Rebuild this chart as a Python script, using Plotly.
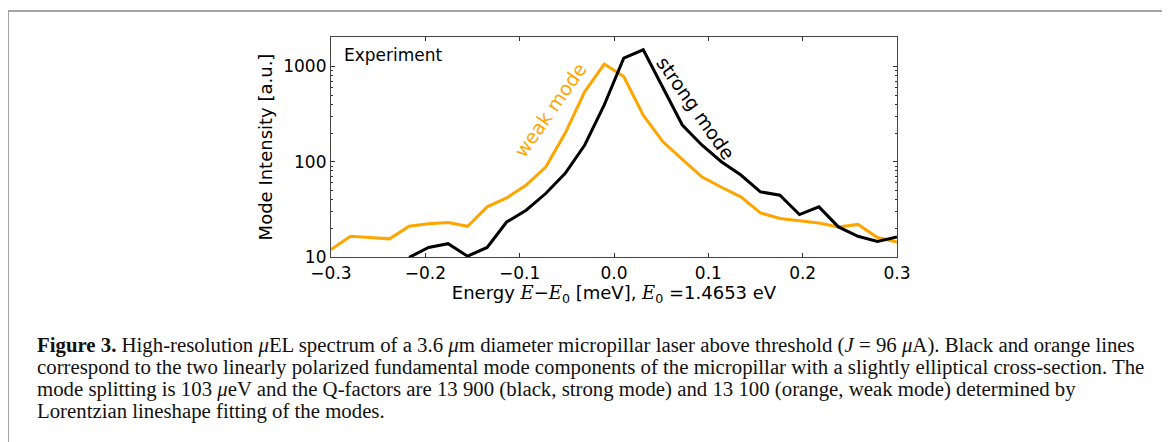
import plotly.graph_objects as go

# Energy detuning E - E0 [meV]
energy = [-0.3, -0.2793, -0.2586, -0.2379, -0.2172, -0.1966, -0.1759, -0.1552,
          -0.1345, -0.1138, -0.0931, -0.0724, -0.0517, -0.0310, -0.0103, 0.0103,
          0.0310, 0.0517, 0.0724, 0.0931, 0.1138, 0.1345, 0.1552, 0.1759,
          0.1966, 0.2172, 0.2379, 0.2586, 0.2793, 0.3]

# weak mode (orange)
weak_mode = [12, 16.5, 16, 15.5, 21, 22.4, 23, 21,
             33.6, 41.7, 57, 88, 200, 546, 1060, 785,
             309, 163, 106, 69.5, 54, 42.8, 29, 25.4,
             24, 22.8, 20.7, 22, 16, 14.4]

# strong mode (black); below 10 at the far left (outside the plotted range)
strong_mode = [None, None, None, None, 9.9, 12.6, 13.8, 10.2,
               12.6, 23.3, 31, 46.4, 75.5, 150, 395, 1225,
               1500, 593, 243, 150, 100, 72.5, 48.3, 44.6,
               27.9, 33.6, 20.7, 16.5, 14.6, 16.2]

x_ticks = [-0.3, -0.2, -0.1, 0.0, 0.1, 0.2, 0.3]
x_ticktext = ["\u22120.3", "\u22120.2", "\u22120.1", "0.0", "0.1", "0.2", "0.3"]
y_ticks = [10, 100, 1000]
y_ticktext = ["10", "100", "1000"]
y_minor = [20, 30, 40, 50, 60, 70, 80, 90, 200, 300, 400, 500, 600, 700, 800, 900, 2000]

caption_lines = [
    "<b>Figure 3.</b> High-resolution <i>μ</i>EL spectrum of a 3.6 <i>μ</i>m diameter micropillar laser above threshold (<i>J</i> = 96 <i>μ</i>A). Black and orange lines",
    "correspond to the two linearly polarized fundamental mode components of the micropillar with a slightly elliptical cross-section. The",
    "mode splitting is 103 <i>μ</i>eV and the Q-factors are 13 900 (black, strong mode) and 13 100 (orange, weak mode) determined by",
    "Lorentzian lineshape fitting of the modes.",
]

OFF = 8  # page body margin
W, H = 1170 - OFF, 442 - OFF
L, R, T, B = 331 - OFF, 897 - OFF, 37 - OFF, 257 - OFF

def px(xp):
    return (xp - OFF - L) / (R - L)

def py(yp):
    return (B - (yp - OFF)) / (B - T)

fig = go.Figure()
fig.add_trace(go.Scatter(x=energy, y=weak_mode, mode="lines",
                         line=dict(color="#FFA500", width=3), showlegend=False))
fig.add_trace(go.Scatter(x=energy, y=strong_mode, mode="lines",
                         line=dict(color="black", width=3), showlegend=False))

tick_font = dict(family="DejaVu Sans", size=17, color="black")
title_font = dict(family="DejaVu Sans", size=18, color="black")
E = "<i><span style='font-family:DejaVu Serif'>E</span></i>"

fig.update_layout(
    width=W, height=H,
    margin=dict(l=L, r=W - R, t=T, b=H - B, pad=0),
    paper_bgcolor="white", plot_bgcolor="white",
    font=tick_font,
    xaxis=dict(range=[-0.3, 0.3], tickvals=x_ticks, ticktext=x_ticktext,
               ticks="inside", ticklen=4, tickwidth=1, tickcolor="#333",
               showline=True, linecolor="#444", linewidth=1.2, mirror="allticks",
               showgrid=False, zeroline=False, tickfont=tick_font,
               title=dict(text=f"Energy {E}\u2212{E}<sub>0</sub> [meV], {E}<sub>0</sub> =1.4653 eV",
                          font=title_font, standoff=3)),
    yaxis=dict(type="log", range=[1, 3.31], tickvals=y_ticks, ticktext=y_ticktext,
               ticks="inside", ticklen=4, tickwidth=1, tickcolor="#333",
               minor=dict(tickvals=y_minor, ticks="inside", ticklen=2, tickwidth=1, tickcolor="#333"),
               showline=True, linecolor="#444", linewidth=1.2, mirror="allticks",
               showgrid=False, zeroline=False, tickfont=tick_font,
               title=dict(text="Mode Intensity [a.u.]", font=title_font, standoff=5)),
)

# inside labels
fig.add_annotation(x=-0.288, y=3.126, xref="x", yref="y", text="Experiment",
                   showarrow=False, xanchor="left", yanchor="middle",
                   font=dict(family="DejaVu Sans", size=17, color="black"))
fig.add_annotation(x=-0.068, y=2.547, xref="x", yref="y", text="weak mode",
                   showarrow=False, textangle=-55, xanchor="center", yanchor="middle",
                   font=dict(family="DejaVu Sans", size=19, color="#FFA500"))
fig.add_annotation(x=0.087, y=2.568, xref="x", yref="y", text="strong mode",
                   showarrow=False, textangle=55, xanchor="center", yanchor="middle",
                   font=dict(family="DejaVu Sans", size=19, color="black"))

# caption
cap_font = dict(family="Liberation Serif", size=20.8, color="#111")
for i, line in enumerate(caption_lines):
    fig.add_annotation(x=px(35), y=py(345 + 22 * i), xref="paper", yref="paper",
                       text=line, showarrow=False, xanchor="left", yanchor="middle",
                       font=cap_font)

# figure frame (open at bottom)
fig.add_shape(type="path", xref="paper", yref="paper",
              path=f"M {px(8)} {py(470)} L {px(8)} {py(11)} L {px(1164)} {py(11)} L {px(1164)} {py(470)}",
              line=dict(color="#888", width=1.5))

fig.write_html("out.html")
